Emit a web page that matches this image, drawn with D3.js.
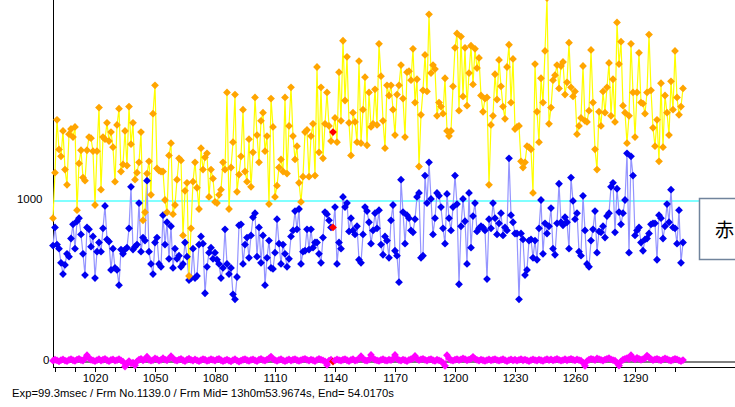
<!DOCTYPE html>
<html>
<head>
<meta charset="utf-8">
<script src="https://d3js.org/d3.v7.min.js"></script>
<style>
body { margin: 0; background: #fff; overflow: hidden; }
text { font-family: "Liberation Sans", Arial, sans-serif; }
</style>
</head>
<body>
<div id="chart"></div>
<script>
//Frame number of the first sample, every array below holds one value per frame
var frameStart = 999;
var markFrame = 1139; //current frame, drawn in red

//Upper series (orange markers, yellow line)
var goldVals = [
893,1176,1504,1320,1277,1435,1195,1100,1415,1447,1397,1460,943,1233,1315,1145,1126,1315,1397,1390,
1309,975,1309,1580,1070,1397,1384,1485,1372,1428,1334,1120,1472,1573,1183,1227,1435,1220,1586,1353,
1485,1132,1176,1240,1428,880,930,1170,1246,1038,1542,1718,1202,1189,1183,1183,1006,930,1283,1359,
918,975,1132,1265,1252,786,1063,1113,534,830,1120,1240,1082,950,1328,1195,1271,1296,1025,1195,1139,994,
987,1038,1070,1240,1195,1674,950,1208,1365,1661,1057,1164,1277,1567,1183,1120,1384,1088,1302,1643,
1409,1240,1498,1548,1309,1403,981,1636,1460,1025,1095,1208,1258,1183,1643,1170,1466,1706,1403,1258,
1340,1113,994,1151,1428,1441,1151,1403,1479,1158,1832,1302,1706,1265,1479,1674,1466,1372,1428,1516,
1365,1800,1498,1995,1624,1895,1485,1283,1548,1491,1365,1869,1359,1567,1769,1346,1674,1460,1479,1693,
1472,1976,1775,1498,1328,1718,1655,1718,1567,1409,1661,1718,1844,1636,1397,1800,1806,1750,1945,1611,
1756,1214,1535,1687,1907,1680,2159,1794,1844,1819,1529,1611,1586,1542,1762,1435,1403,1435,1712,1951,
2040,1561,2021,1649,1951,1592,1794,1964,1724,1945,1825,1888,1655,1554,1636,1643,1100,1472,1529,1787,
1630,1876,1712,1586,1510,1832,1970,1611,1882,1447,1460,1466,1246,1208,1240,1340,1334,1321,1050,1850,
1554,1365,1762,1611,1932,2260,1479,1580,1750,1781,1844,1699,1838,1863,1661,1737,1983,1706,1649,1680,
1415,1466,1516,1838,1498,1491,1561,1938,1611,1321,1195,1554,1466,1680,1548,1706,1857,1529,1756,1491,
2109,1850,1989,1592,1548,1359,1529,1976,1674,1397,1674,1920,1611,1605,1542,1674,2033,1687,1454,1340,
1504,1246,1731,1334,1655,1548,1409,1743,1567,1932,1643,1535,1586,1699
];

//Middle series (blue markers, lavender line)
var blueVals = [
723,836,729,704,616,546,603,672,654,767,855,704,874,893,792,672,540,836,824,716,
780,521,685,742,685,830,969,761,748,572,704,584,572,477,698,672,698,710,830,1088,
698,716,729,987,685,773,754,1126,685,609,546,742,773,609,591,912,729,868,641,843,
584,704,641,660,591,609,742,654,509,521,704,521,534,729,780,735,427,591,679,710,641,679,
635,609,521,584,824,609,546,584,420,389,528,849,855,609,729,773,647,786,899,924,
654,836,616,786,477,647,754,584,578,679,887,735,609,729,672,591,641,780,817,937,
824,950,609,685,691,824,698,824,710,742,742,672,616,773,931,918,880,836,836,962,
609,742,704,1025,962,987,811,893,817,792,843,635,616,792,962,937,868,735,817,924,
830,943,729,666,780,754,647,880,975,691,660,496,1132,931,735,912,893,817,805,887,
1025,1050,647,660,1158,987,1240,1013,792,893,1050,1032,962,830,735,1044,893,817,962,1158,
981,483,843,1013,874,609,1050,710,906,987,811,830,843,836,817,515,887,830,987,893,
792,861,924,786,836,817,1265,912,868,798,798,389,798,761,540,572,754,761,647,754,
635,830,1006,672,861,798,843,956,704,666,861,1107,868,849,899,868,704,1145,1000,887,
924,685,660,1032,817,609,591,754,824,937,679,811,805,843,773,906,924,1088,1113,805,
1076,931,855,924,1006,1296,679,1277,1158,786,817,836,742,691,761,767,798,855,861,861,
635,912,893,767,843,981,868,1070,836,830,735,943,616,742
];

//Lower series near zero (magenta)
var pinkVals = [
8,14,10,4,12,16,9,6,13,18,11,7,15,20,12,9,22,42,24,14,
10,6,12,17,9,14,19,11,5,13,16,8,12,18,10,2,-28,-12,6,-8,
-4,-20,4,14,20,10,16,33,14,8,12,22,17,9,13,24,15,11,20,36,
22,12,8,15,19,11,6,14,21,13,9,16,10,5,12,18,14,7,11,17,
13,8,16,20,11,6,10,15,9,4,12,17,8,3,9,14,18,11,7,13,
16,10,6,14,19,12,8,15,22,34,18,12,7,13,17,10,5,11,16,9,
14,18,11,7,12,16,20,13,9,15,11,6,13,19,14,10,4,-18,8,14,
3,10,16,12,8,14,18,11,6,13,17,9,12,20,36,18,11,8,15,44,
22,14,10,7,13,17,11,8,14,12,18,44,20,12,9,15,11,6,13,17,
21,38,19,12,16,20,13,9,15,18,11,7,14,10,5,-6,-24,42,24,12,
8,14,18,12,16,22,17,11,15,20,32,19,13,9,15,11,7,12,16,10,
14,18,12,8,13,17,11,6,12,16,10,14,9,13,17,11,15,10,6,12,
16,12,9,15,11,7,13,18,12,16,10,14,19,13,8,12,17,11,15,20,
14,10,16,12,8,-4,-24,6,14,20,16,12,22,18,13,9,15,20,24,16,
12,8,-6,-22,4,14,20,24,18,42,22,16,26,20,14,18,22,40,28,18,
12,16,20,14,10,16,22,18,12,8,14,20,16,10,6,12
];

//Axis ticks and labels
var xTicks = d3.range(1000, 1311, 10);
var xLabels = [1020, 1050, 1080, 1110, 1140, 1170, 1200, 1230, 1260, 1290];
var yLabels = [0, 1000];
var refLevel = 1000;
var statusText = "Exp=99.3msec / Frm No.1139.0 / Frm Mid= 13h0m53.9674s,  End= 54.0170s";
var boxText = "赤";

///////////////////////////////////////////////////////////////////////////
///////////////////////////// Set up the svg //////////////////////////////
///////////////////////////////////////////////////////////////////////////

var width = 735,
	height = 407;

var svg = d3.select("#chart").append("svg")
	.attr("width", width)
	.attr("height", height);

var x = d3.scaleLinear().domain([999, 1340]).range([53, 735]);
var y = d3.scaleLinear().domain([-31, 2248]).range([367, 0]);

var series = [
	{vals: goldVals, line: "#ffff00", mark: "#ffa500"},
	{vals: blueVals, line: "#9494ff", mark: "#0000f0"},
	{vals: pinkVals, line: "#ff00ff", mark: "#ff00ff"}
];
series.forEach(function(s) {
	s.pts = s.vals.map(function(v, i) { return {f: frameStart + i, v: v}; });
});

var diamond = "M0,-3.9L3.9,0L0,3.9L-3.9,0Z";

///////////////////////////////////////////////////////////////////////////
///////////////////////////////// Axes ////////////////////////////////////
///////////////////////////////////////////////////////////////////////////

//zero line and 1000 reference line
svg.append("line")
	.attr("x1", x(999)).attr("x2", width)
	.attr("y1", y(0)).attr("y2", y(0))
	.style("stroke", "#000").style("stroke-width", 1);

svg.append("line")
	.attr("x1", x(999)).attr("x2", 699)
	.attr("y1", y(refLevel)).attr("y2", y(refLevel))
	.style("stroke", "#80ffff").style("stroke-width", 2);

var xAxis = svg.append("g")
	.attr("transform", "translate(0," + 367 + ")")
	.call(d3.axisBottom(x)
		.tickValues(xTicks)
		.tickSize(5)
		.tickSizeOuter(0)
		.tickPadding(2)
		.tickFormat(function(d) { return xLabels.indexOf(d) >= 0 ? d : ""; }));
xAxis.selectAll("text").style("font-size", "11.5px").style("fill", "#000");
xAxis.select(".domain").attr("d", "M53,0.5H735");

var yAxis = svg.append("g")
	.attr("transform", "translate(53.5,0)")
	.call(d3.axisLeft(y)
		.tickValues(yLabels)
		.tickSize(0)
		.tickPadding(11)
		.tickFormat(d3.format("d")));
yAxis.select(".domain").attr("d", "M0,0V367");
yAxis.selectAll("text")
	.style("font-size", "11.5px")
	.style("fill", "#000")
	.attr("dy", "0.12em")
	.attr("x", function(d) { return d === 0 ? -4 : -11; });

///////////////////////////////////////////////////////////////////////////
//////////////////////////////// Series ///////////////////////////////////
///////////////////////////////////////////////////////////////////////////

var line = d3.line()
	.x(function(d) { return x(d.f); })
	.y(function(d) { return y(d.v); });

//draw bottom to top: magenta, blue, orange
var order = [series[2], series[1], series[0]];

order.forEach(function(s) {
	svg.append("path")
		.datum(s.pts)
		.attr("d", line)
		.style("fill", "none")
		.style("stroke", s.line)
		.style("stroke-width", 1.2);
});

order.forEach(function(s) {
	svg.append("g").selectAll("path")
		.data(s.pts).enter().append("path")
		.attr("d", diamond)
		.attr("transform", function(d) { return "translate(" + x(d.f) + "," + y(d.v) + ")"; })
		.style("fill", function(d) { return d.f === markFrame ? "#ff0000" : s.mark; });
});

///////////////////////////////////////////////////////////////////////////
//////////////////////////////// Texts ////////////////////////////////////
///////////////////////////////////////////////////////////////////////////

svg.append("rect")
	.attr("x", 699.5).attr("y", 198.5)
	.attr("width", 60).attr("height", 61)
	.style("fill", "#fff")
	.style("stroke", "#71849c")
	.style("stroke-width", 1.5);

svg.append("text")
	.attr("x", 715).attr("y", 237)
	.style("font-family", "'Noto Sans CJK JP', sans-serif")
	.style("font-size", "19px")
	.text(boxText);

svg.append("text")
	.attr("x", 12).attr("y", 397)
	.attr("textLength", 382)
	.attr("lengthAdjust", "spacingAndGlyphs")
	.style("font-size", "11.5px")
	.text(statusText);
</script>
</body>
</html>
